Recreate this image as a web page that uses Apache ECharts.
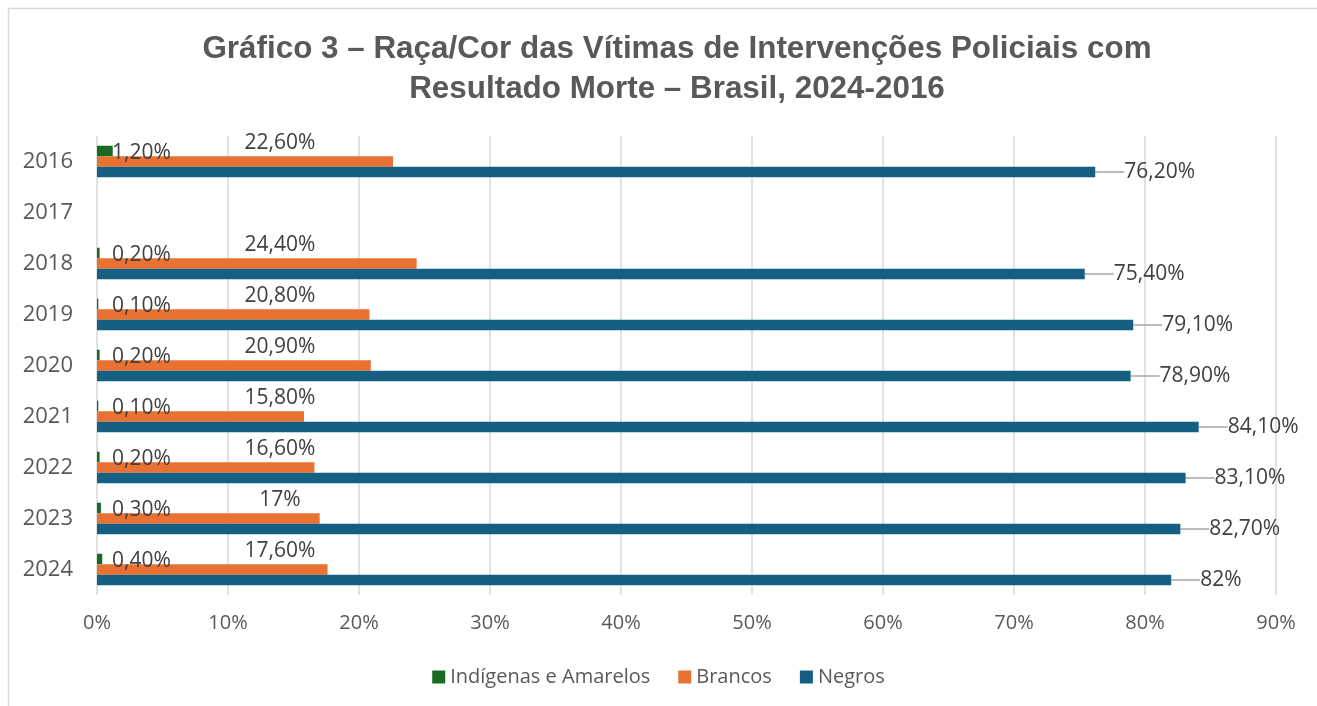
<!DOCTYPE html>
<html><head><meta charset="utf-8">
<script src="https://cdn.jsdelivr.net/npm/echarts@6/dist/echarts.min.js"></script>
<style>html,body{margin:0;padding:0;background:#fff}#c{width:1317px;height:706px}</style>
</head><body><div id="c"></div>
<script>
const years = ['2016','2017','2018','2019','2020','2021','2022','2023','2024'];
const indigenas = [1.2, null, 0.2, 0.1, 0.2, 0.1, 0.2, 0.3, 0.4];
const brancos = [22.6, null, 24.4, 20.8, 20.9, 15.8, 16.6, 17, 17.6];
const negros = [76.2, null, 75.4, 79.1, 78.9, 84.1, 83.1, 82.7, 82];
const xTicks = [0,10,20,30,40,50,60,70,80,90];

function fmt(v){
  if (v == null) return '';
  if (Number.isInteger(v)) return v + '%';
  return v.toFixed(2).replace('.', ',') + '%';
}
const FONT = '"Open Sans", sans-serif';
const chart = echarts.init(document.getElementById('c'));
chart.setOption({
  animation:false,
  backgroundColor:'#fff',
  graphic:[{type:'rect',shape:{x:8.5,y:8.5,width:1340,height:720},style:{fill:'none',stroke:'#d9d9d9',lineWidth:1.5},silent:true}],
  title:{
    text:'Gráfico 3 – Raça/Cor das Vítimas de Intervenções Policiais com\nResultado Morte – Brasil, 2024-2016',
    left:672, textAlign:'center', top:24,
    textStyle:{fontFamily:'"Liberation Sans", Arial, sans-serif',fontWeight:'bold',fontSize:31.4,color:'#595959',lineHeight:40}
  },
  legend:{
    bottom:14, left:'center', icon:'rect', itemWidth:13, itemHeight:13, itemGap:28,
    textStyle:{fontFamily:FONT,fontSize:20,color:'#595959'},
    data:['Indígenas e Amarelos','Brancos','Negros']
  },
  grid:{left:97,right:41,top:136,bottom:111,containLabel:false},
  xAxis:{
    type:'value', min:0, max:90, interval:10,
    axisLabel:{formatter:v=>v+'%',fontFamily:FONT,fontSize:20,color:'#595959',margin:18},
    splitLine:{show:true,lineStyle:{color:'#d9d9d9',width:1.5}},
    axisLine:{show:false}, axisTick:{show:false}
  },
  yAxis:{
    type:'category', data:years, inverse:true,
    axisLabel:{fontFamily:FONT,fontSize:22,color:'#595959',margin:24},
    axisLine:{show:false}, axisTick:{show:false}
  },
  series:[
    {name:'Indígenas e Amarelos',type:'bar',data:indigenas,barWidth:10.5,barGap:'0%',
     itemStyle:{color:'#196B24'},
     label:{show:true,position:'insideLeft',distance:15,offset:[0,2],formatter:p=>fmt(p.value),
       fontFamily:FONT,fontSize:21,color:'#404040'}},
    {name:'Brancos',type:'bar',data:brancos,barWidth:10.5,barGap:'0%',
     itemStyle:{color:'#E97132'},
     label:{show:true,position:'insideLeft',distance:5,align:'center',offset:[178,-18],formatter:p=>fmt(p.value),
       fontFamily:FONT,fontSize:21,color:'#404040'}},
    {name:'Negros',type:'bar',data:negros,barWidth:10.5,barGap:'0%',
     itemStyle:{color:'#156082'},
     label:{show:true,position:'right',distance:5,padding:[0,0,0,8],formatter:p=>fmt(p.value),
       fontFamily:FONT,fontSize:21,color:'#404040'},
     labelLayout:{dx:16},
     labelLine:{show:true,lineStyle:{color:'#a6a6a6',width:1.5}}}
  ]
});
</script></body></html>
